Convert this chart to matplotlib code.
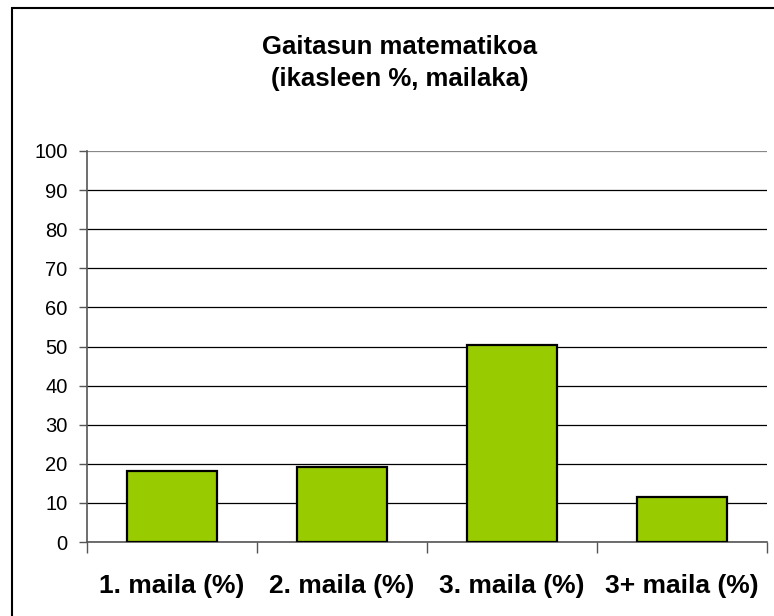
import matplotlib.pyplot as plt
from matplotlib.patches import Rectangle

categories = ['1. maila (%)', '2. maila (%)', '3. maila (%)', '3+ maila (%)']
values = [18.2, 19.1, 50.4, 11.4]
title_lines = ['Gaitasun matematikoa', '(ikasleen %, mailaka)']

plt.rcParams['font.family'] = ['Liberation Sans', 'DejaVu Sans']

W, H = 774, 616
fig = plt.figure(figsize=(W / 100, H / 100), dpi=100)
ax = fig.add_axes([87 / W, 1 - 542 / H, (767 - 87) / W, (542 - 151) / H])

x = list(range(len(categories)))
ax.bar(x, values, width=0.53, color='#99CC00', edgecolor='black', linewidth=1.6, zorder=3)

ax.set_ylim(0, 100)
ax.set_xlim(-0.5, len(categories) - 0.5)
ax.set_yticks(range(0, 101, 10))
ax.grid(axis='y', color='black', linewidth=0.9, zorder=0)
ax.get_ygridlines()[-1].set_color('#888888')

# category labels at centres, tick marks on the boundaries
ax.set_xticks(x)
ax.set_xticklabels(categories, fontsize=19, fontweight='bold')
ax.tick_params(axis='x', which='major', length=0, pad=23)
ax.set_xticks([i - 0.5 for i in range(len(categories) + 1)], minor=True)
ax.tick_params(axis='x', which='minor', length=8, width=1, color='#555555')
ax.tick_params(axis='y', length=6, width=1, color='#555555', labelsize=14.5, pad=8)

for side in ['top', 'right']:
    ax.spines[side].set_visible(False)
ax.spines['left'].set_color('#555555')
ax.spines['bottom'].set_color('#555555')
ax.spines['left'].set_linewidth(1.2)
ax.spines['bottom'].set_linewidth(1.2)

fig.text(400 / W, 1 - 47 / H, title_lines[0], ha='center', va='center', fontsize=18.5, fontweight='bold')
fig.text(400 / W, 1 - 79 / H, title_lines[1], ha='center', va='center', fontsize=18.5, fontweight='bold')

# frame around the chart area (runs off the right and bottom edges)
fig.patches.append(Rectangle((12 / W, -0.05), 1.0, 1 - 8 / H + 0.05, transform=fig.transFigure,
                             fill=False, edgecolor='black', linewidth=1.5))

fig.savefig('out.png', dpi=100)
